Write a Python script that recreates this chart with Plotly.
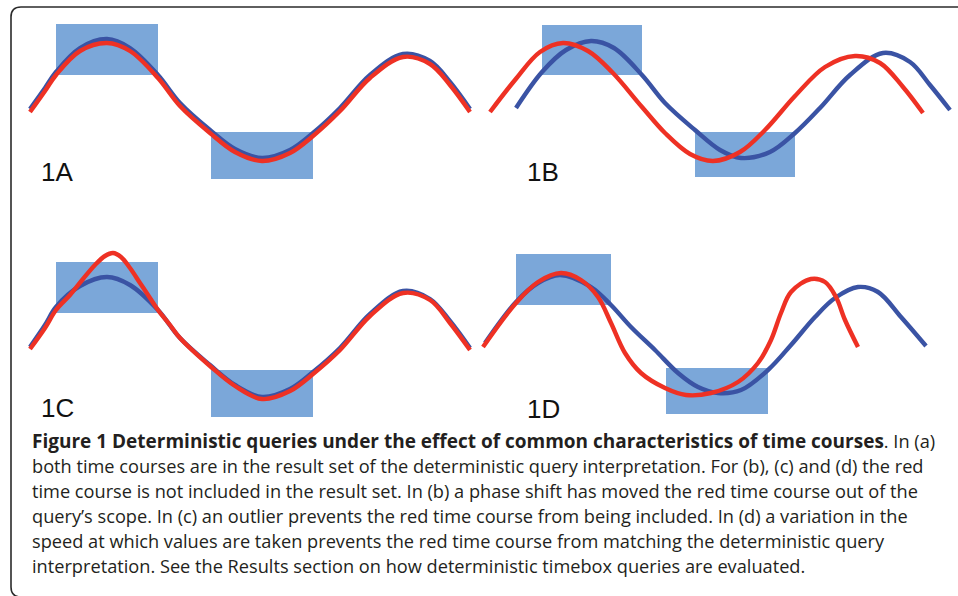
import plotly.graph_objects as go

# ---------------- data (time units, level units) ----------------
# Panel 1A
a_blue_t = [0, 1.5, 2.6, 5, 7.7, 10, 12.8, 15, 18, 20.5, 23.2, 26, 28.3, 31, 34, 37.3, 40, 42, 44]
a_blue_v = [0.1, 2.2, 3.8, 6.2, 7.1, 6.2, 3.5, 0.7, -2.0, -3.9, -4.8, -4.0, -2.3, 0.2, 3.5, 5.6, 4.9, 2.8, 0.1]
a_red_t = [0, 1.5, 2.6, 5, 7.7, 10, 12.8, 15, 18, 20.5, 23.2, 26, 28.3, 31, 34, 37.3, 40, 42, 44]
a_red_v = [-0.2, 1.9, 3.5, 5.9, 6.7, 5.9, 3.2, 0.4, -2.3, -4.2, -5.1, -4.3, -2.6, -0.1, 3.2, 5.3, 4.6, 2.5, -0.2]
a_box_t = [[2.6, 12.8], [18.1, 28.3]]
a_box_v = [[3.5, 8.6], [-6.9, -2.2]]

# Panel 1B
b_blue_t = [3.0, 5.6, 8.0, 10.5, 12.8, 15.6, 17.9, 20.9, 23.4, 25.5, 28.4, 30.9, 33.4, 36.4, 39.7, 42.4, 44.4, 46.4]
b_blue_v = [0.2, 3.8, 6.0, 6.9, 6.2, 3.5, 0.7, -2.0, -4.0, -4.8, -4.2, -2.3, 0.2, 3.5, 5.7, 4.8, 2.5, 0.0]
b_red_t = [0.4, 2.9, 5.4, 7.7, 10.2, 12.6, 15.6, 17.9, 20.4, 22.7, 25.4, 27.9, 30.9, 33.9, 36.9, 39.4, 41.7, 43.7]
b_red_v = [-0.2, 3.0, 5.8, 6.7, 5.9, 3.8, 0.3, -2.3, -4.4, -5.1, -4.2, -2.0, 1.4, 4.3, 5.4, 4.7, 2.3, -0.3]
b_box_t = [[5.6, 15.6], [20.9, 30.9]]
b_box_v = [[3.5, 8.5], [-6.7, -2.2]]

# Panel 1C
c_blue_t = [0, 1.5, 2.6, 5, 7.7, 10, 12.8, 15, 18, 20.5, 23.2, 26, 28.3, 31, 34, 37.3, 40, 42, 44]
c_blue_v = [0.0, 2.2, 4.0, 6.1, 7.0, 6.2, 3.7, 0.9, -1.8, -3.8, -5.0, -4.2, -2.5, -0.1, 3.3, 5.6, 4.8, 2.6, -0.1]
c_red_t = [0, 1.5, 2.6, 4, 5.3, 6.5, 7.5, 8.3, 9.1, 10, 11, 12, 12.8, 14, 15, 18, 20.5, 23.2, 26, 28.3, 31, 34, 37.3, 40, 42, 44]
c_red_v = [-0.2, 1.9, 3.7, 5.2, 6.8, 8.2, 9.1, 9.4, 9.0, 7.9, 6.4, 4.9, 3.7, 2.2, 0.9, -1.9, -3.9, -5.2, -4.4, -2.7, -0.3, 3.1, 5.4, 4.7, 2.4, -0.3]
c_box_t = [[2.6, 12.8], [18.1, 28.3]]
c_box_v = [[3.4, 8.5], [-7.0, -2.3]]

# Panel 1D
d_blue_t = [-0.1, 3.0, 5.2, 7.4, 10.5, 12.5, 14.5, 16.9, 19.2, 21.2, 23.2, 25.5, 28.2, 30.5, 32.9, 34.9, 37.2, 39.2, 41.5, 44.0]
d_blue_v = [0.4, 4.5, 6.4, 7.2, 6.0, 4.2, 2.0, -0.3, -2.6, -4.0, -4.6, -4.3, -2.3, 0.2, 3.0, 4.9, 6.0, 5.5, 3.0, 0.1]
d_red_t = [-0.3, 3.0, 5.2, 7.5, 9.5, 11.2, 12.5, 13.9, 15.5, 17.9, 20.0, 22.5, 25.2, 27.2, 28.5, 29.5, 30.5, 32.5, 33.9, 35.0, 35.9, 37.2]
d_red_v = [0.0, 4.4, 6.5, 7.4, 6.7, 5.0, 2.4, -0.6, -2.6, -4.1, -4.8, -4.6, -3.5, -1.6, 0.7, 3.4, 5.5, 6.8, 6.5, 5.0, 2.7, 0.0]
d_box_t = [[3.0, 12.5], [18.0, 28.2]]
d_box_v = [[4.2, 9.3], [-6.7, -2.1]]

panel_labels = ["1A", "1B", "1C", "1D"]
label_pos_t = [0.9, 3.9, 0.9, 3.9]
label_pos_v = [-6.2, -6.2, -6.1, -6.2]

caption_bold = "Figure 1 Deterministic queries under the effect of common characteristics of time courses"
caption_lines = [
    ". In (a)",
    "both time courses are in the result set of the deterministic query interpretation. For (b), (c) and (d) the red",
    "time course is not included in the result set. In (b) a phase shift has moved the red time course out of the",
    "query\u2019s scope. In (c) an outlier prevents the red time course from being included. In (d) a variation in the",
    "speed at which values are taken prevents the red time course from matching the deterministic query",
    "interpretation. See the Results section on how deterministic timebox queries are evaluated.",
]

# ---------------- layout helpers ----------------
W, H = 958, 596
BLUE = "#3a53a4"
RED = "#ee3124"
BOX = "#7ba7d9"
TXT = "#231f20"

# panel pixel boxes (L, R, T, B) and origin of local units (x_origin px, y_base px), 10 px per unit
panels = [
    dict(box=(0, 479, 0, 215), org=(30, 110)),
    dict(box=(479, 958, 0, 215), org=(486, 110)),
    dict(box=(0, 479, 225, 430), org=(30, 347)),
    dict(box=(479, 958, 225, 430), org=(486, 347)),
]
data = [
    (a_blue_t, a_blue_v, a_red_t, a_red_v, a_box_t, a_box_v),
    (b_blue_t, b_blue_v, b_red_t, b_red_v, b_box_t, b_box_v),
    (c_blue_t, c_blue_v, c_red_t, c_red_v, c_box_t, c_box_v),
    (d_blue_t, d_blue_v, d_red_t, d_red_v, d_box_t, d_box_v),
]

fig = go.Figure()
shapes = []
annotations = []
layout_axes = {}
for i, (p, d) in enumerate(zip(panels, data)):
    n = "" if i == 0 else str(i + 1)
    L, R, T, B = p["box"]
    ox, oy = p["org"]
    layout_axes["xaxis" + n] = dict(
        domain=[L / W, R / W], range=[(L - ox) / 10, (R - ox) / 10],
        visible=False, fixedrange=True, anchor="y" + n)
    layout_axes["yaxis" + n] = dict(
        domain=[1 - B / H, 1 - T / H], range=[(oy - B) / 10, (oy - T) / 10],
        visible=False, fixedrange=True, anchor="x" + n)
    bt, bv, rt, rv, boxt, boxv = d
    for (t0, t1), (v0, v1) in zip(boxt, boxv):
        shapes.append(dict(type="rect", xref="x" + n, yref="y" + n, x0=t0, x1=t1, y0=v0, y1=v1,
                           fillcolor=BOX, line=dict(width=0), layer="below"))
    fig.add_trace(go.Scatter(x=bt, y=bv, mode="lines", line=dict(color=BLUE, width=4.4, shape="spline", smoothing=1.0),
                             xaxis="x" + n, yaxis="y" + n, showlegend=False, hoverinfo="skip"))
    fig.add_trace(go.Scatter(x=rt, y=rv, mode="lines", line=dict(color=RED, width=4.4, shape="spline", smoothing=1.0),
                             xaxis="x" + n, yaxis="y" + n, showlegend=False, hoverinfo="skip"))
    annotations.append(dict(text=panel_labels[i], xref="x" + n, yref="y" + n, x=label_pos_t[i], y=label_pos_v[i],
                            xanchor="left", yanchor="middle", showarrow=False,
                            font=dict(family="Liberation Sans, Arial", size=26, color="#111111")))

# caption
line_y = [441, 466, 491, 516, 541, 566]
for k, txt in enumerate(caption_lines):
    if k == 0:
        s = '<span style="font-size:19px"><b>' + caption_bold + "</b></span>" + txt
    else:
        s = txt
    annotations.append(dict(text=s, xref="paper", yref="paper", x=30 / W, y=1 - line_y[k] / H,
                            xanchor="left", yanchor="middle", showarrow=False, align="left",
                            font=dict(family="Open Sans", size=18.2, color=TXT)))

# rounded frame
def px(x):
    return x / W

def py(y):
    return 1 - y / H

path = (f"M {px(965)},{py(7)} L {px(21)},{py(7)} Q {px(11)},{py(7)} {px(11)},{py(17)} "
        f"L {px(11)},{py(587)} Q {px(11)},{py(597)} {px(21)},{py(597)} L {px(965)},{py(597)}")
shapes.append(dict(type="path", xref="paper", yref="paper", path=path,
                   line=dict(color="#2b2b2b", width=1.6)))

fig.update_layout(
    width=W, height=H, margin=dict(l=0, r=0, t=0, b=0),
    paper_bgcolor="white", plot_bgcolor="white",
    shapes=shapes, annotations=annotations, **layout_axes)

fig.write_html("out.html", config={"displayModeBar": False},
               post_script="document.body.style.margin='0px';document.body.style.padding='0px';")
